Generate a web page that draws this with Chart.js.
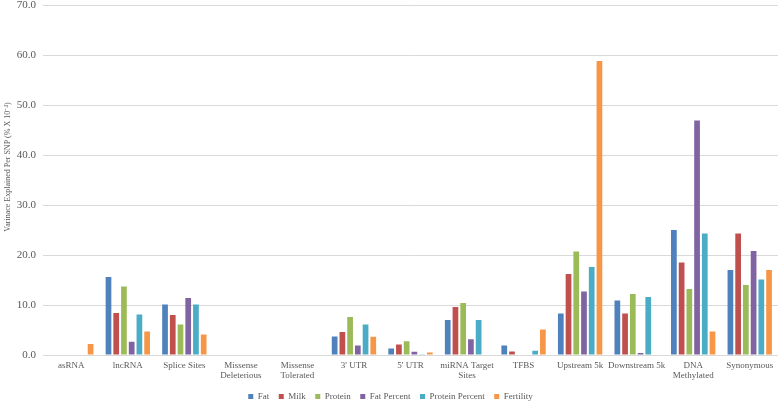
<!DOCTYPE html>
<html>
<head>
<meta charset="utf-8">
<script src="https://cdn.jsdelivr.net/npm/chart.js@4"></script>
<style>
html,body{margin:0;padding:0;background:#fff;}
#wrap{width:779px;height:401px;position:relative;}
</style>
</head>
<body>
<div id="wrap"><canvas id="c" width="779" height="401"></canvas></div>
<script>
const categories = ['asRNA','lncRNA','Splice Sites',['Missense','Deleterious'],['Missense','Tolerated'],"3' UTR","5' UTR",['miRNA Target','Sites'],'TFBS','Upstream 5k','Downstream 5k',['DNA','Methylated'],'Synonymous'];
const fat            = [0, 15.6, 10.1, 0, 0, 3.7, 1.3, 7.0, 1.9, 8.3, 10.9, 25.0, 17.0];
const milk           = [0, 8.4, 8.0, 0, 0, 4.6, 2.1, 9.6, 0.7, 16.2, 8.3, 18.5, 24.3];
const protein        = [0, 13.7, 6.1, 0, 0, 7.6, 2.75, 10.4, 0.1, 20.7, 12.2, 13.2, 14.0];
const fatPercent     = [0, 2.65, 11.4, 0, 0, 1.9, 0.65, 3.15, 0.1, 12.7, 0.4, 46.9, 20.8];
const proteinPercent = [0, 8.1, 10.1, 0, 0, 6.1, 0.15, 7.0, 0.85, 17.6, 11.6, 24.3, 15.1];
const fertility      = [2.2, 4.7, 4.1, 0, 0, 3.65, 0.5, 0, 5.1, 58.8, 0, 4.7, 17.0];
const yTicks = [0,10,20,30,40,50,60,70];
const yTitle = 'Varinace Explained Per SNP (% X 10\u207B\u2074)';

const FONT = "'Liberation Serif', 'Times New Roman', serif";
const TXT = '#595959';
const PAD_BOTTOM = -10;

const series = [
  ['Fat', fat, '#4F81BD'],
  ['Milk', milk, '#C0504D'],
  ['Protein', protein, '#9BBB59'],
  ['Fat Percent', fatPercent, '#8064A2'],
  ['Protein Percent', proteinPercent, '#4BACC6'],
  ['Fertility', fertility, '#F79646']
];

const titlePlugin = {
  id: 'ytitle',
  afterDraw(chart) {
    const ctx = chart.ctx;
    ctx.save();
    ctx.translate(8, 167);
    ctx.rotate(-Math.PI/2);
    ctx.font = '8px ' + FONT;
    ctx.fillStyle = TXT;
    ctx.textAlign = 'center';
    ctx.textBaseline = 'middle';
    ctx.fillText(yTitle, 0, 0);
    ctx.restore();
  }
};

new Chart(document.getElementById('c'), {
  type: 'bar',
  data: {
    labels: categories,
    datasets: series.map(s => ({
      label: s[0], data: s[1], backgroundColor: s[2], borderWidth: 0,
      categoryPercentage: 0.82, barPercentage: 0.74
    }))
  },
  options: {
    responsive: false,
    animation: false,
    layout: { padding: { top: 5, right: 1, left: 3, bottom: PAD_BOTTOM } },
    plugins: {
      tooltip: { enabled: false },
      legend: {
        position: 'bottom',
        labels: {
          font: { family: FONT, size: 9 },
          color: TXT,
          boxWidth: 5, boxHeight: 5,
          padding: 9.5
        }
      }
    },
    scales: {
      x: {
        grid: { display: false, drawTicks: false },
        border: { display: false },
        ticks: { font: { family: FONT, size: 9, lineHeight: 1.1 }, color: TXT, padding: 6, maxRotation: 0, autoSkip: false },
        afterFit(scale) {
          const lh = scale.chart.legend ? scale.chart.legend.height : 30;
          scale.height = 401 - PAD_BOTTOM - 355 - lh;
          scale.paddingLeft = 0; scale.paddingRight = 0;
        }
      },
      y: {
        min: 0, max: 70,
        afterBuildTicks(scale) { scale.ticks = yTicks.map(v => ({ value: v })); },
        grid: { color: '#D9D9D9', lineWidth: 1, drawTicks: false },
        border: { display: false },
        ticks: { font: { family: FONT, size: 11 }, color: TXT, padding: 7, callback: v => Number(v).toFixed(1) },
        afterFit(scale) {
          scale.width = 40;
          scale.paddingTop = 0; scale.paddingBottom = 0;
        }
      }
    }
  },
  plugins: [titlePlugin]
});
</script>
</body>
</html>
